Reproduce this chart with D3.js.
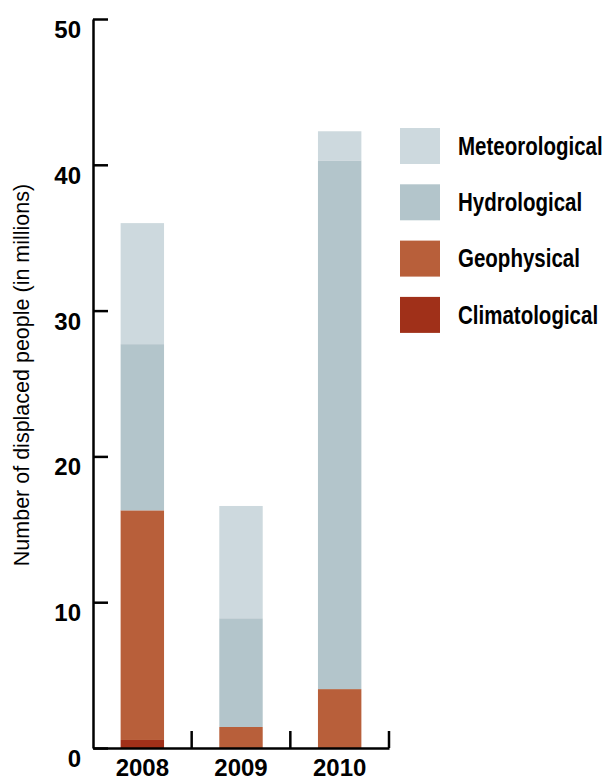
<!DOCTYPE html>
<html>
<head>
<meta charset="utf-8">
<script src="https://cdn.jsdelivr.net/npm/d3@7/dist/d3.min.js"></script>
<style>
  html, body { margin: 0; padding: 0; background: #fff; }
  svg { display: block; }
  .lab { font-family: "Liberation Sans", Arial, sans-serif; font-weight: bold; }
</style>
</head>
<body>
<svg id="chart" width="606" height="781"></svg>
<script>
const years = ["2008", "2009", "2010"];
const seriesNames = ["Climatological", "Geophysical", "Hydrological", "Meteorological"];
const climatological = [0.55, 0, 0];
const geophysical = [15.75, 1.44, 4.04];
const hydrological = [11.4, 7.46, 36.26];
const meteorological = [8.3, 7.7, 2.0];
const yTicks = [0, 10, 20, 30, 40, 50];
const colors = ["#a03019", "#b85f3a", "#b3c5cb", "#cdd9de"];
const legendOrder = ["Meteorological", "Hydrological", "Geophysical", "Climatological"];

const rows = years.map((yr, i) => ({
  year: yr,
  Climatological: climatological[i],
  Geophysical: geophysical[i],
  Hydrological: hydrological[i],
  Meteorological: meteorological[i]
}));

const svg = d3.select("#chart");
const mLeft = 93, mRight = 389, mTop = 19, mBottom = 748;

const y = d3.scaleLinear().domain([0, 50]).range([mBottom, mTop]);
const xOuter = d3.scaleBand().domain(years).range([mLeft, mRight]).padding(0);
const xBar = d3.scaleBand().domain(years).range([mLeft, mRight]).paddingInner(0.56).paddingOuter(0.28);
const color = d3.scaleOrdinal().domain(seriesNames).range(colors);

const stacked = d3.stack().keys(seriesNames)(rows);

// bars
svg.append("g").selectAll("g").data(stacked).join("g")
  .attr("fill", d => color(d.key))
  .selectAll("rect").data(d => d).join("rect")
  .attr("x", d => xBar(d.data.year))
  .attr("width", xBar.bandwidth())
  .attr("y", d => y(d[1]))
  .attr("height", d => y(d[0]) - y(d[1]));

// y axis
const yAxis = d3.axisLeft(y).tickValues(yTicks).tickSizeInner(-15).tickSizeOuter(0).tickPadding(12);
const gy = svg.append("g").attr("transform", `translate(${mLeft},0)`).call(yAxis);
gy.select(".domain").attr("stroke", "#000").attr("stroke-width", 2.5);
gy.selectAll(".tick line").attr("stroke", "#000").attr("stroke-width", 2.5);
gy.selectAll(".tick text").attr("class", "lab").attr("font-size", 24).attr("fill", "#000")
  .attr("dy", null).attr("y", 10).attr("dominant-baseline", "central");

// x axis
const xAxis = d3.axisBottom(xBar).tickSize(0).tickPadding(0);
const gx = svg.append("g").attr("transform", `translate(0,${mBottom})`).call(xAxis);
gx.select(".domain").attr("stroke", "#000").attr("stroke-width", 2.5);
gx.selectAll(".tick text").attr("class", "lab").attr("font-size", 24).attr("fill", "#000")
  .attr("dy", null).attr("y", 28);

// boundary ticks
svg.append("g").selectAll("line").data(years).join("line")
  .attr("x1", d => xOuter(d) + xOuter.bandwidth())
  .attr("x2", d => xOuter(d) + xOuter.bandwidth())
  .attr("y1", mBottom)
  .attr("y2", mBottom - 17)
  .attr("stroke", "#000").attr("stroke-width", 2.5);

// y title
svg.append("text")
  .attr("transform", `translate(29,375) rotate(-90)`)
  .attr("text-anchor", "middle")
  .attr("font-family", "'Liberation Sans', Arial, sans-serif")
  .attr("font-size", 21.5)
  .attr("fill", "#000")
  .text("Number of displaced people (in millions)");

// legend
const legend = svg.append("g").selectAll("g").data(legendOrder).join("g")
  .attr("transform", (d, i) => `translate(400,${128 + i * 56.3})`);
legend.append("rect").attr("width", 40).attr("height", 36).attr("fill", d => color(d));
legend.append("text").attr("class", "lab")
  .attr("transform", "translate(58,18) scale(0.82,1)")
  .attr("dominant-baseline", "central").attr("font-size", 25).attr("fill", "#000")
  .text(d => d);
</script>
</body>
</html>
